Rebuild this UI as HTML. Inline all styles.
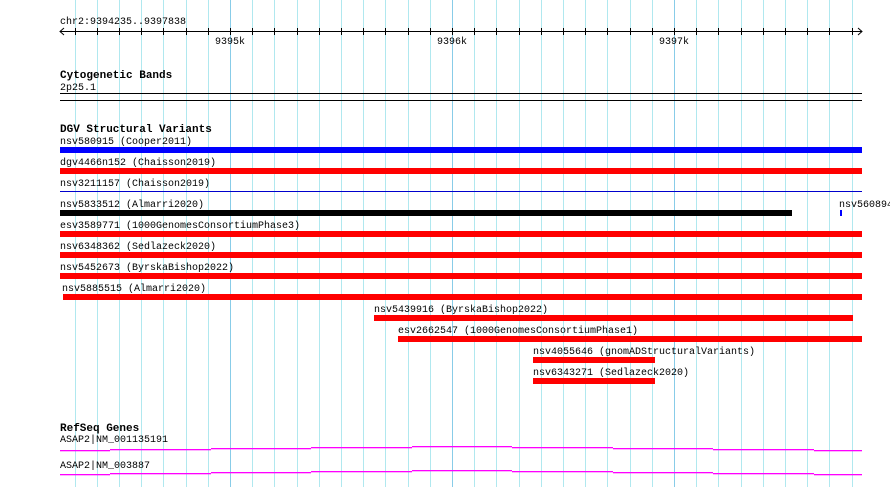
<!DOCTYPE html>
<html><head><meta charset="utf-8"><style>
html,body{margin:0;padding:0;background:#fff}
svg{display:block}
text{font-family:"Liberation Mono","DejaVu Sans Mono",monospace;font-size:10px;fill:#000}
.h{font-weight:bold;font-size:11px}
</style></head><body>
<svg width="890" height="487" viewBox="0 0 890 487" xmlns="http://www.w3.org/2000/svg">
<g id="grid" stroke-width="1" shape-rendering="crispEdges"></g>
<!-- ruler -->
<line x1="60" y1="31.5" x2="862" y2="31.5" stroke="#000" shape-rendering="crispEdges"/>
<path d="M64 28 L60 31.5 L64 35 M858 28 L862 31.5 L858 35" stroke="#000" fill="none"/>
<g id="ticks" stroke="#000" shape-rendering="crispEdges"></g>
<text x="230" y="44" text-anchor="middle">9395k</text>
<text x="452" y="44" text-anchor="middle">9396k</text>
<text x="674" y="44" text-anchor="middle">9397k</text>
<text x="60" y="24">chr2:9394235..9397838</text>

<text class="h" x="60" y="78">Cytogenetic Bands</text>
<text x="60" y="90">2p25.1</text>
<rect x="60" y="93" width="802" height="1" fill="#000"/>
<rect x="60" y="100" width="802" height="1" fill="#000"/>

<text class="h" x="60" y="132">DGV Structural Variants</text>
<text x="60" y="144">nsv580915 (Cooper2011)</text>
<rect x="60" y="147" width="802" height="6" fill="#0000ff"/>
<text x="60" y="165">dgv4466n152 (Chaisson2019)</text>
<rect x="60" y="168" width="802" height="6" fill="#ff0000"/>
<text x="60" y="186">nsv3211157 (Chaisson2019)</text>
<rect x="60" y="191" width="802" height="1" fill="#0000cc"/>
<text x="60" y="207">nsv5833512 (Almarri2020)</text>
<rect x="60" y="210" width="732" height="6" fill="#000"/>
<text x="839" y="207">nsv560894</text>
<rect x="840" y="210" width="2" height="6" fill="#0000ff"/>
<text x="60" y="228">esv3589771 (1000GenomesConsortiumPhase3)</text>
<rect x="60" y="231" width="802" height="6" fill="#ff0000"/>
<text x="60" y="249">nsv6348362 (Sedlazeck2020)</text>
<rect x="60" y="252" width="802" height="6" fill="#ff0000"/>
<text x="60" y="270">nsv5452673 (ByrskaBishop2022)</text>
<rect x="60" y="273" width="802" height="6" fill="#ff0000"/>
<text x="62" y="291">nsv5885515 (Almarri2020)</text>
<rect x="63" y="294" width="799" height="6" fill="#ff0000"/>
<text x="374" y="312">nsv5439916 (ByrskaBishop2022)</text>
<rect x="374" y="315" width="479" height="6" fill="#ff0000"/>
<text x="398" y="333">esv2662547 (1000GenomesConsortiumPhase1)</text>
<rect x="398" y="336" width="464" height="6" fill="#ff0000"/>
<text x="533" y="354">nsv4055646 (gnomADStructuralVariants)</text>
<rect x="533" y="357" width="122" height="6" fill="#ff0000"/>
<text x="533" y="375">nsv6343271 (Sedlazeck2020)</text>
<rect x="533" y="378" width="122" height="6" fill="#ff0000"/>

<text class="h" x="60" y="431">RefSeq Genes</text>
<text x="60" y="442">ASAP2|NM_001135191</text>
<text x="60" y="468">ASAP2|NM_003887</text>
<g id="genes" fill="#ff00ff"></g>
</svg>
<script>
var ns="http://www.w3.org/2000/svg";
var g=document.getElementById('grid'),t=document.getElementById('ticks');
for(var k=-8;k<=28;k++){var x=Math.round(230+22.2*k);if(x<55||x>858)continue;
var l=document.createElementNS(ns,'line');l.setAttribute('x1',x+.5);l.setAttribute('x2',x+.5);l.setAttribute('y1',0);l.setAttribute('y2',487);
l.setAttribute('stroke',(k%10==0)?'#88cce8':'#b0e8ef');g.appendChild(l);
var m=document.createElementNS(ns,'line');m.setAttribute('x1',x+.5);m.setAttribute('x2',x+.5);m.setAttribute('y1',28);m.setAttribute('y2',35);t.appendChild(m);}
var ge=document.getElementById('genes');
var xs=[60,110,211,311,412,512,613,713,814,862],dy=[0,-1,-2,-3,-4,-3,-2,-1,0];
[450,474].forEach(function(b){for(var i=0;i<9;i++){var r=document.createElementNS(ns,'rect');r.setAttribute('x',xs[i]);r.setAttribute('width',xs[i+1]-xs[i]);r.setAttribute('y',b+dy[i]);r.setAttribute('height',1.3);ge.appendChild(r);}});
</script>
</body></html>
